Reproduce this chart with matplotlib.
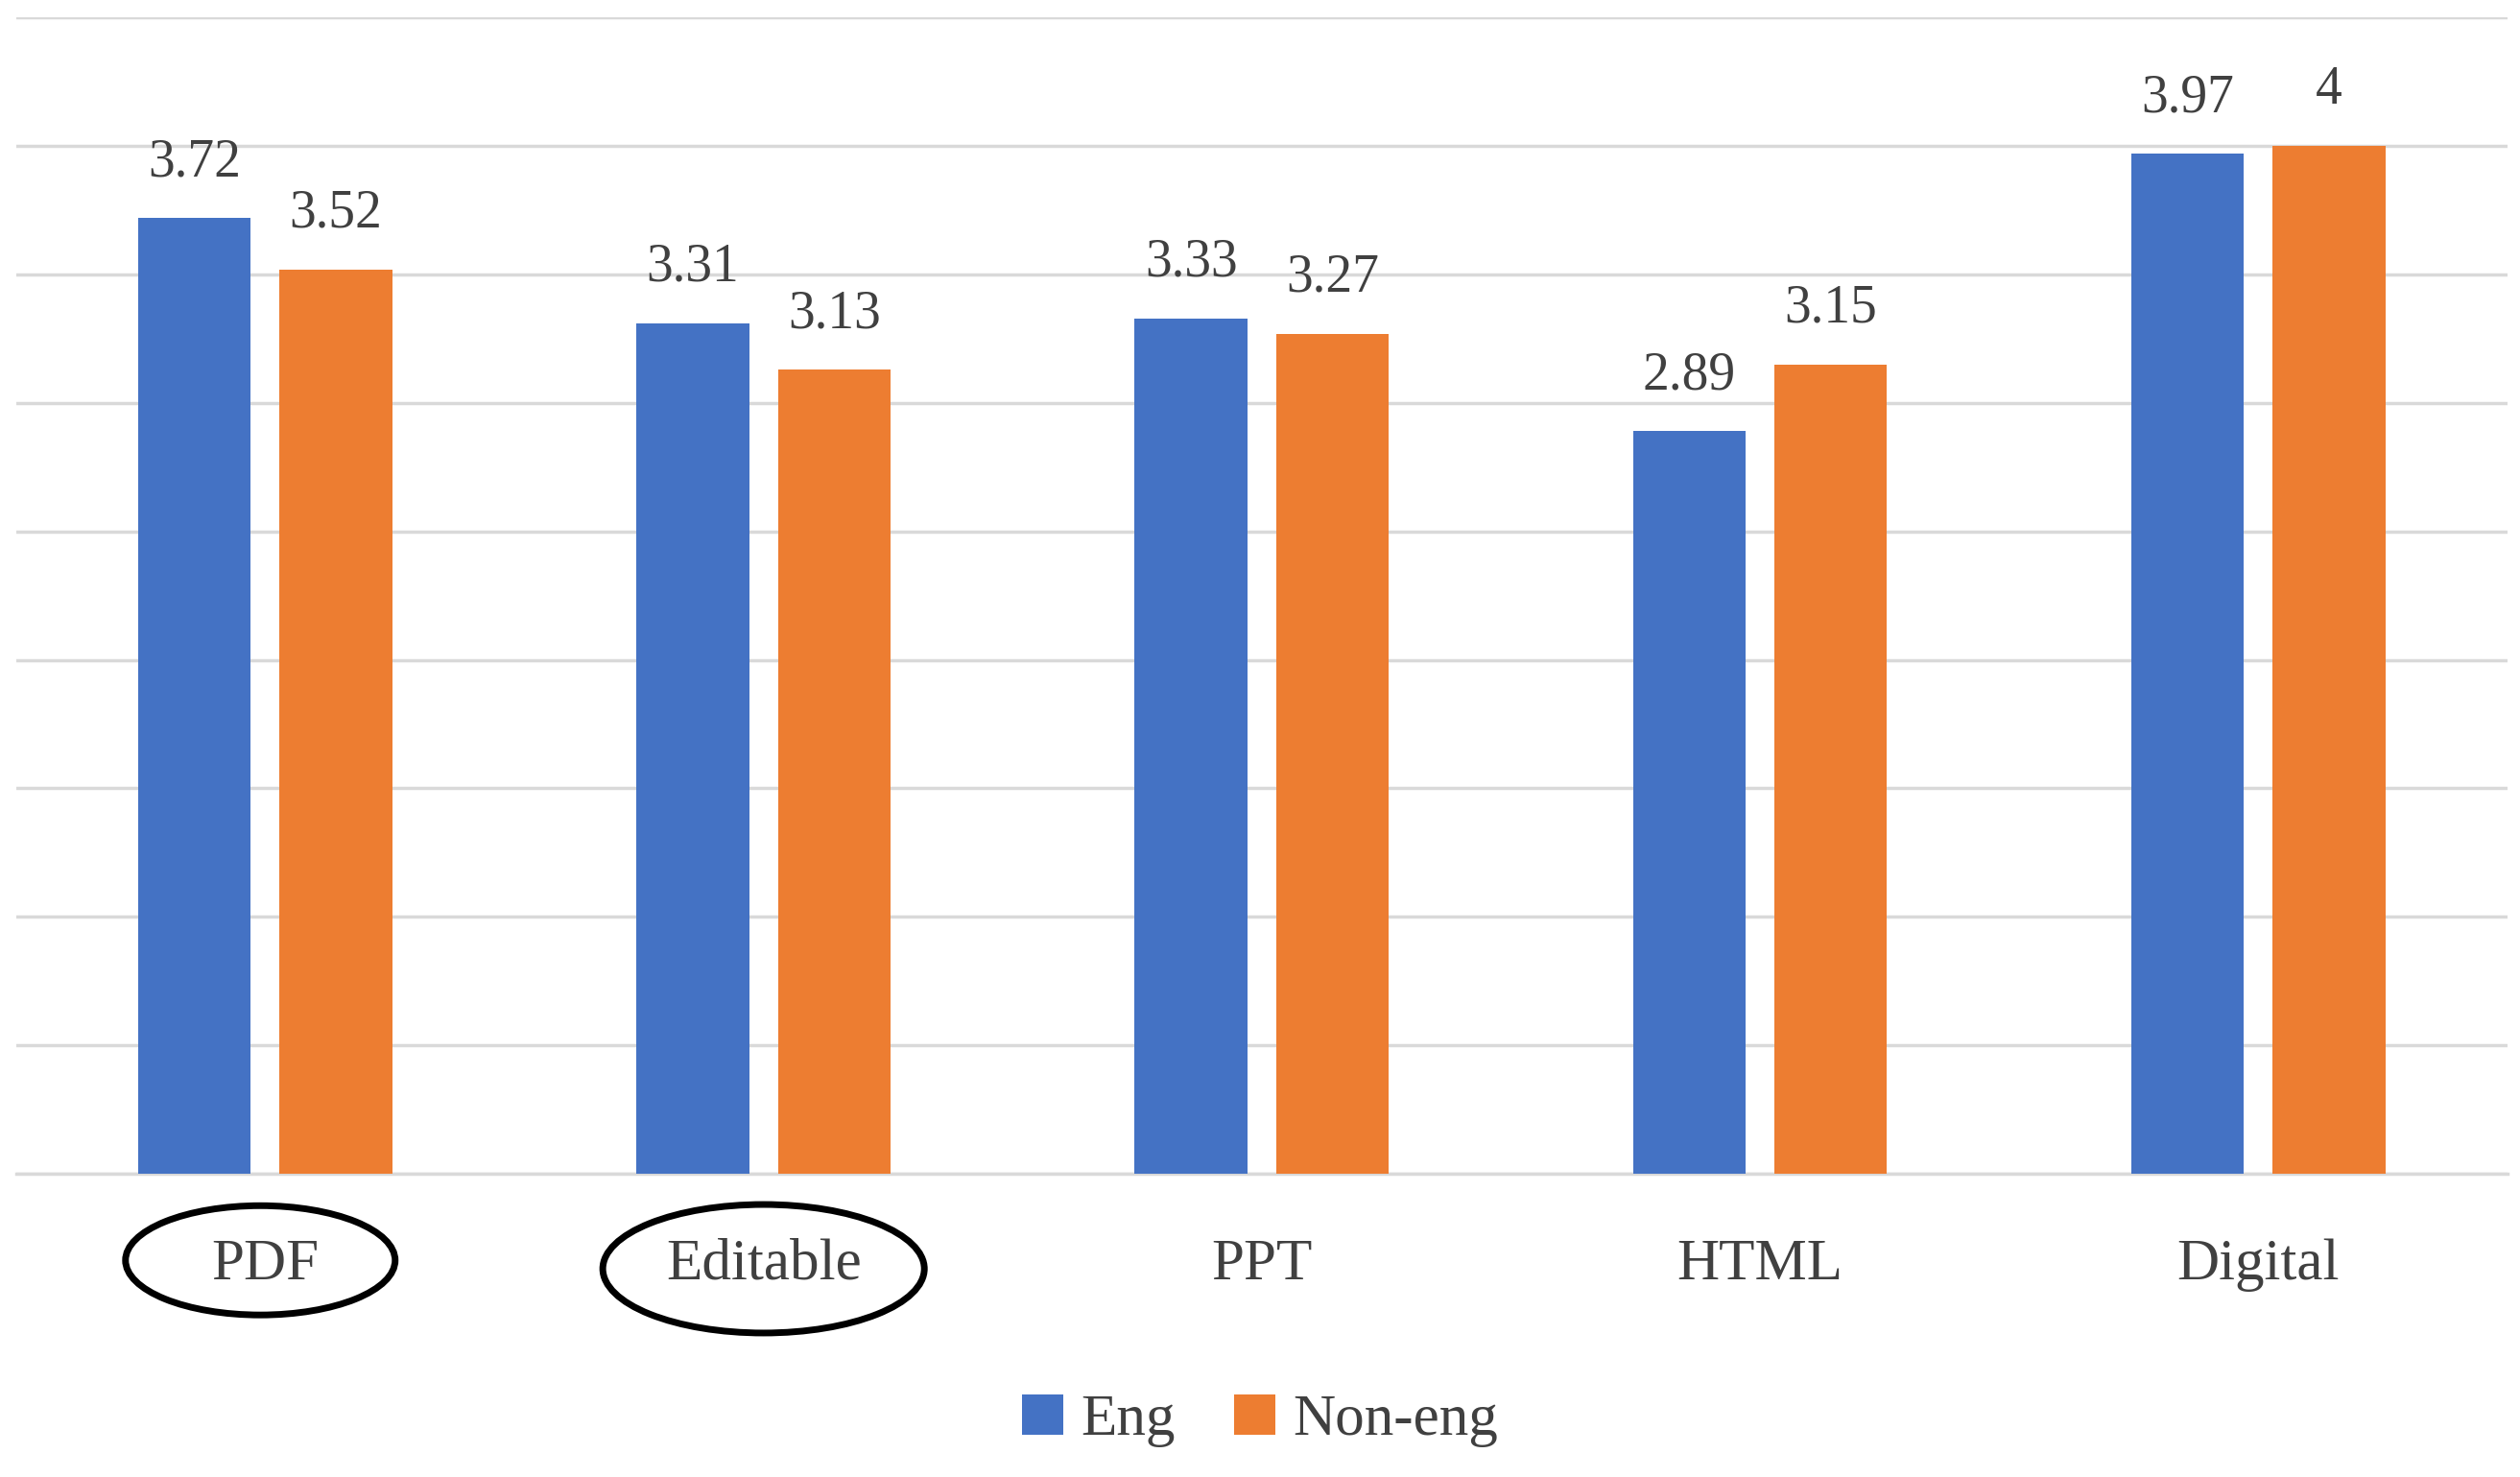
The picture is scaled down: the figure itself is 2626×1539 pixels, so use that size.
import matplotlib
matplotlib.use("Agg")
import matplotlib.pyplot as plt
import numpy as np
from matplotlib.patches import Ellipse

categories = ["PDF", "Editable", "PPT", "HTML", "Digital"]
eng = [3.72, 3.31, 3.33, 2.89, 3.97]
non_eng = [3.52, 3.13, 3.27, 3.15, 4.0]
eng_labels = ["3.72", "3.31", "3.33", "2.89", "3.97"]
non_labels = ["3.52", "3.13", "3.27", "3.15", "4"]

plt.rcParams['font.family'] = ['Liberation Serif', 'DejaVu Serif']
fig = plt.figure(figsize=(26.26, 15.39), dpi=100)
ax = fig.add_axes([0.0064, 0.2054, 0.9886, 0.7826])
x = np.arange(len(categories))
w = 0.226
off = 0.142
b1 = ax.bar(x - off, eng, w, color="#4472C4", label="Eng", zorder=3)
b2 = ax.bar(x + off, non_eng, w, color="#ED7D31", label="Non-eng", zorder=3)
for i in range(len(x)):
    ax.text(x[i] - off, eng[i] + 0.12, eng_labels[i], ha="center", va="bottom", fontsize=40, color="#404040")
    ax.text(x[i] + off, non_eng[i] + 0.12, non_labels[i], ha="center", va="bottom", fontsize=40, color="#404040")
ax.set_xlim(-0.5, 4.5)
ax.set_ylim(0, 4.5)
ax.set_yticks(np.arange(0, 4.51, 0.5))
ax.yaxis.grid(True, color="#D9D9D9", linewidth=2.5, zorder=0)
ax.tick_params(axis="y", left=False, labelleft=False)
ax.tick_params(axis="x", bottom=False, labelsize=44, labelcolor="#404040", pad=45)
ax.set_xticks(x)
ax.set_xticklabels(categories)
for s in ["left", "right", "top"]:
    ax.spines[s].set_visible(False)
ax.spines["bottom"].set_color("#D9D9D9")
ax.spines["bottom"].set_linewidth(2.5)

fig.patches.append(Ellipse((0.1033, 0.1467), 0.107, 0.074, transform=fig.transFigure,
                           fill=False, edgecolor="black", linewidth=5))
fig.patches.append(Ellipse((0.303, 0.141), 0.1276, 0.087, transform=fig.transFigure,
                           fill=False, edgecolor="black", linewidth=5))

fig.legend(handles=[b1, b2], loc="center", bbox_to_anchor=(0.5, 0.038), ncol=2,
           frameon=False, fontsize=44, handlelength=0.7, handleheight=0.7,
           handletextpad=0.3, columnspacing=1.0, labelcolor="#404040")
fig.savefig("out.png", dpi=100)
